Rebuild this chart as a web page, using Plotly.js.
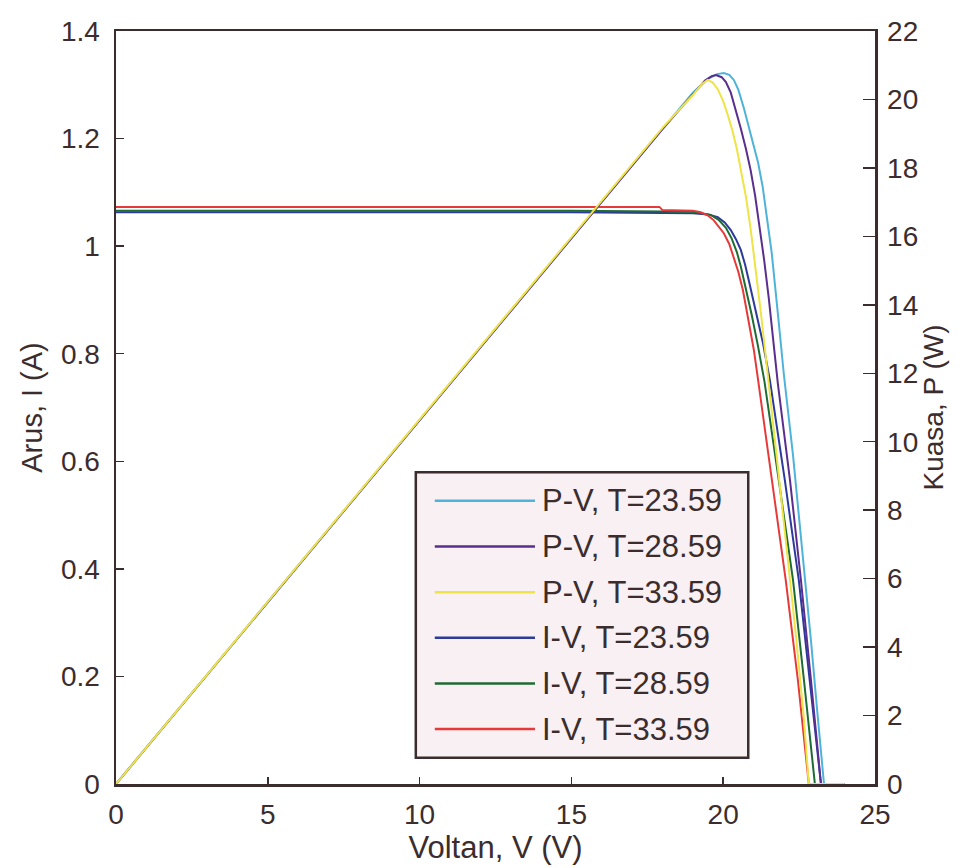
<!DOCTYPE html>
<html><head><meta charset="utf-8">
<script src="https://cdn.plot.ly/plotly-3.0.1.min.js"></script>
<style>html,body{margin:0;padding:0;background:#fff}#chart{width:965px;height:868px}</style>
</head><body><div id="chart"></div>
<script>
// ---- data ----
const pvNames = ['P-V, T=23.59', 'P-V, T=28.59', 'P-V, T=33.59'];
const ivNames = ['I-V, T=23.59', 'I-V, T=28.59', 'I-V, T=33.59'];

const pv1_V = [0, 5, 10, 15, 18, 19, 19.5, 19.8, 20.02, 20.2, 20.35, 20.5, 20.68, 20.85, 21.0, 21.15, 21.3, 21.45, 21.6, 21.8, 22.0, 22.3, 22.6, 22.9, 23.1, 23.32, 24.0];
const pv1_P = [0, 5.32, 10.64, 15.96, 19.15, 20.2, 20.6, 20.74, 20.77, 20.72, 20.57, 20.28, 19.75, 19.2, 18.7, 18.15, 17.45, 16.55, 15.5, 13.75, 11.95, 9.6, 6.9, 4.1, 2.1, 0, 0];

const pv2_V = [0, 5, 10, 15, 18, 19, 19.4, 19.62, 19.76, 19.95, 20.09, 20.25, 20.42, 20.58, 20.75, 20.9, 21.05, 21.2, 21.35, 21.5, 21.8, 22.2, 22.56, 22.89, 23.22, 24.0];
const pv2_P = [0, 5.32, 10.64, 15.96, 19.13, 20.15, 20.55, 20.68, 20.71, 20.65, 20.51, 20.2, 19.69, 19.15, 18.55, 17.95, 17.2, 16.3, 15.3, 14.2, 11.7, 8.88, 5.96, 3.04, 0, 0];

const pv3_V = [0, 5, 10, 15, 18, 19, 19.3, 19.49, 19.65, 19.82, 20.0, 20.15, 20.3, 20.45, 20.6, 20.75, 20.9, 21.05, 21.25, 21.5, 21.8, 22.1, 22.4, 22.65, 22.82, 24.0];
const pv3_P = [0, 5.33, 10.66, 15.99, 19.17, 20.13, 20.45, 20.57, 20.5, 20.3, 19.95, 19.55, 19.1, 18.55, 17.9, 17.15, 16.25, 15.2, 13.7, 11.7, 9.3, 6.8, 4.3, 2.0, 0, 0];

const iv1_V = [0, 5, 10, 15, 19, 19.5, 19.82, 20.05, 20.25, 20.42, 20.58, 20.72, 20.84, 21.07, 21.31, 21.54, 22.03, 22.49, 22.86, 23.22];
const iv1_I = [1.063, 1.063, 1.063, 1.063, 1.061, 1.059, 1.054, 1.044, 1.030, 1.013, 0.993, 0.966, 0.937, 0.881, 0.820, 0.750, 0.565, 0.379, 0.193, 0];

const iv2_V = [0, 5, 10, 15, 19, 19.59, 19.85, 20.09, 20.28, 20.45, 20.58, 20.71, 20.94, 21.14, 21.36, 21.83, 22.30, 22.66, 23.02];
const iv2_I = [1.066, 1.066, 1.066, 1.066, 1.064, 1.058, 1.049, 1.034, 1.014, 0.989, 0.962, 0.931, 0.872, 0.816, 0.748, 0.565, 0.379, 0.193, 0];

const iv3_V = [0, 5, 10, 15, 17.9, 18.0, 19.0, 19.26, 19.5, 19.69, 19.85, 20.02, 20.2, 20.35, 20.5, 20.65, 20.84, 21.01, 21.14, 21.60, 22.06, 22.46, 22.82];
const iv3_I = [1.073, 1.073, 1.073, 1.073, 1.073, 1.067, 1.066, 1.063, 1.057, 1.048, 1.037, 1.024, 1.004, 0.980, 0.952, 0.918, 0.862, 0.807, 0.755, 0.565, 0.379, 0.193, 0];

const xTickVals = [0, 5, 10, 15, 20, 25];
const yTickVals = [0, 0.2, 0.4, 0.6, 0.8, 1, 1.2, 1.4];
const y2TickVals = [0, 2, 4, 6, 8, 10, 12, 14, 16, 18, 20, 22];

// ---- styles ----
const pvColors = ['#4fb3d9', '#5a2e8e', '#eee445'];
const ivColors = ['#2c3a9c', '#1f6b34', '#e63a3a'];
const axisColor = '#3b2d2d';
const textColor = '#3b2d2d';
const fontFam = '"Liberation Sans", Arial, sans-serif';

const traces = [
  {x: pv1_V, y: pv1_P, name: pvNames[0], yaxis: 'y2', color: pvColors[0]},
  {x: pv2_V, y: pv2_P, name: pvNames[1], yaxis: 'y2', color: pvColors[1]},
  {x: pv3_V, y: pv3_P, name: pvNames[2], yaxis: 'y2', color: pvColors[2]},
  {x: iv1_V, y: iv1_I, name: ivNames[0], yaxis: 'y', color: ivColors[0]},
  {x: iv2_V, y: iv2_I, name: ivNames[1], yaxis: 'y', color: ivColors[1]},
  {x: iv3_V, y: iv3_I, name: ivNames[2], yaxis: 'y', color: ivColors[2]}
].map(t => ({
  type: 'scatter', mode: 'lines', x: t.x, y: t.y, name: t.name, yaxis: t.yaxis,
  line: {color: t.color, width: 2}, showlegend: false, hoverinfo: 'skip'
}));

// ---- hand-built legend (MATLAB style, long line samples) ----
const legBox = {x0: 0.395, x1: 0.833, y0: 0.035, y1: 0.414};
const legRowTop = 0.376, legRowStep = 0.0606;
const legLineX0 = 0.420, legLineX1 = 0.552, legTextX = 0.558;
const shapes = [{
  type: 'rect', xref: 'paper', yref: 'paper', x0: legBox.x0, x1: legBox.x1, y0: legBox.y0, y1: legBox.y1,
  fillcolor: '#f8f0f2', line: {color: axisColor, width: 2.5}, layer: 'above'
}];
const annotations = [];
traces.forEach((t, i) => {
  const yy = legRowTop - i * legRowStep;
  shapes.push({type: 'line', xref: 'paper', yref: 'paper', x0: legLineX0, x1: legLineX1, y0: yy, y1: yy,
    line: {color: t.line.color, width: 2.5}, layer: 'above'});
  annotations.push({xref: 'paper', yref: 'paper', x: legTextX, y: yy, xanchor: 'left', yanchor: 'middle',
    text: t.name, showarrow: false, font: {family: fontFam, size: 31, color: textColor}});
});

const axisCommon = {
  showline: true, linecolor: axisColor, linewidth: 2.5, ticks: 'inside', tickcolor: axisColor,
  tickwidth: 1.5, showgrid: false, zeroline: false, automargin: false,
  tickfont: {family: fontFam, size: 28, color: textColor}
};

const layout = {
  width: 965, height: 868,
  margin: {l: 116, r: 90, t: 31, b: 84},
  paper_bgcolor: '#ffffff', plot_bgcolor: '#ffffff',
  showlegend: false,
  xaxis: Object.assign({}, axisCommon, {
    range: [0, 25], tickvals: xTickVals, ticklen: 7, mirror: true, ticklabelstandoff: 4,
    title: {text: 'Voltan, V (V)', font: {family: fontFam, size: 31, color: textColor}, standoff: 5}
  }),
  yaxis: Object.assign({}, axisCommon, {
    range: [0, 1.4], tickvals: yTickVals, ticklen: 8, ticklabelstandoff: 8,
    title: {text: 'Arus, I (A)', font: {family: fontFam, size: 29, color: textColor}, standoff: 10}
  }),
  yaxis2: Object.assign({}, axisCommon, {
    range: [0, 22], tickvals: y2TickVals, ticklen: 12, overlaying: 'y', side: 'right', ticklabelstandoff: 4,
    title: {text: 'Kuasa, P (W)', font: {family: fontFam, size: 28, color: textColor}, standoff: 6}
  }),
  shapes: shapes,
  annotations: annotations
};

Plotly.newPlot('chart', traces, layout, {staticPlot: true, displayModeBar: false});
</script>
</body></html>
